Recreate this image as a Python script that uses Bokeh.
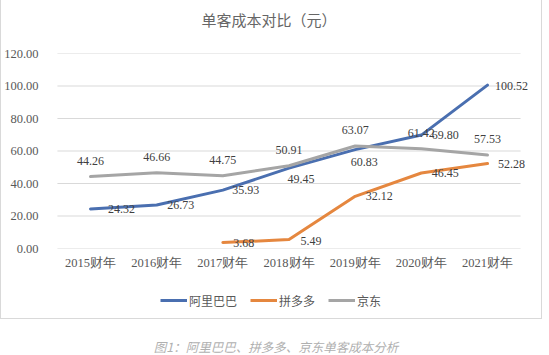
import math
from bokeh.plotting import figure
from bokeh.models import (FactorRange, Range1d, FixedTicker, NumeralTickFormatter,
                          Legend, LegendItem, ColumnDataSource, Div, LabelSet)
from bokeh.transform import dodge
from bokeh.layouts import column
from bokeh.embed import file_html
from bokeh.resources import INLINE
from bokeh.core.properties import value

# ---------------- data ----------------
categories = ["2015财年", "2016财年", "2017财年", "2018财年", "2019财年", "2020财年", "2021财年"]
alibaba = [24.32, 26.73, 35.93, 49.45, 60.83, 69.80, 100.52]
pinduoduo = [math.nan, math.nan, 3.68, 5.49, 32.12, 46.45, 52.28]
jingdong = [44.26, 46.66, 44.75, 50.91, 63.07, 61.42, 57.53]
y_ticks = [0, 20, 40, 60, 80, 100, 120]
series_names = ["阿里巴巴", "拼多多", "京东"]
title_text = "单客成本对比（元）"
caption_text = "图1：阿里巴巴、拼多多、京东单客成本分析"

# ---------------- styles ----------------
colors = ["#4a6fb0", "#e5873f", "#a5a5a5"]
# label offsets in screen pixels (dx right, dy down)
ali_dx = [31, 24, 23, 12, 9, 24, 24]
ali_dy = [0, 0, 0, 11, 12, 0, 1]
pdd_dx = [0, 0, 21, 22, 24, 24, 24]
pdd_dy = [0, 0, 0, 1, 0, 0, 0]
jd_dx = [0, 0, 0, 0, 0, 0, 0]
jd_dy = [-16, -16, -16, -16, -16, -16, -16]
FONT_CJK = "Noto Sans CJK SC"
GREY = "#595959"

title = Div(text=title_text, width=530, height=24,
            styles={"text-align": "center", "font-size": "15px", "line-height": "24px",
                    "color": "#666666", "font-family": FONT_CJK, "width": "530px",
                    "padding-right": "4px", "padding-top": "3px", "box-sizing": "border-box"})

p = figure(x_range=FactorRange(factors=categories, range_padding=0.15,
                               range_padding_units="absolute"),
           y_range=Range1d(0, 120),
           width=530, height=247,
           min_border_left=37, min_border_right=1,
           min_border_top=19, min_border_bottom=33,
           output_backend="svg", toolbar_location=None)

p.outline_line_color = None
p.xgrid.grid_line_color = None
p.ygrid.grid_line_color = None

# horizontal gridlines spanning exactly the category bands
grid_src = ColumnDataSource(dict(y=y_ticks, x0=[categories[0]] * len(y_ticks),
                                 x1=[categories[-1]] * len(y_ticks)))
p.segment(x0=dodge("x0", -0.5, range=p.x_range), x1=dodge("x1", 0.5, range=p.x_range),
          y0="y", y1="y", source=grid_src, line_color="#d9d9d9", line_width=1)

p.yaxis.ticker = FixedTicker(ticks=y_ticks)
p.yaxis.formatter = NumeralTickFormatter(format="0.00")
for ax in (p.xaxis[0], p.yaxis[0]):
    ax.axis_line_color = None
    ax.major_tick_line_color = None
    ax.minor_tick_line_color = None
    ax.major_label_text_font = "Liberation Serif"
    ax.major_label_text_font_size = "12.5px"
    ax.major_label_text_color = GREY
p.yaxis.major_label_standoff = 3
p.xaxis.major_label_standoff = 1

sources = []
for vals, col in zip([alibaba, pinduoduo, jingdong], colors):
    src = ColumnDataSource(dict(x=categories, y=vals))
    sources.append(src)
    p.line("x", "y", source=src, line_color=col, line_width=3,
           line_join="round", line_cap="round")

def add_labels(vals, dx, dy):
    xs, ys, ts, ox, oy = [], [], [], [], []
    for c, v, a, b in zip(categories, vals, dx, dy):
        if math.isnan(v):
            continue
        xs.append(c); ys.append(v); ts.append(f"{v:.2f}"); ox.append(a); oy.append(-b)
    src = ColumnDataSource(dict(x=xs, y=ys, t=ts, ox=ox, oy=oy))
    p.add_layout(LabelSet(x="x", y="y", text="t", source=src, x_offset="ox", y_offset="oy",
                          text_align="center", text_baseline="middle",
                          text_font=value("Liberation Serif"), text_font_size="12px",
                          text_color="#404040"))

add_labels(jingdong, jd_dx, jd_dy)
add_labels(alibaba, ali_dx, ali_dy)
add_labels(pinduoduo, pdd_dx, pdd_dy)

# legend strip (lines drawn off-range so only the legend shows)
p2 = figure(width=530, height=37, x_range=FactorRange(factors=categories),
            y_range=Range1d(1000, 1001),
            x_axis_type=None, y_axis_type=None, min_border=0,
            output_backend="svg", toolbar_location=None)
p2.outline_line_color = None
p2.grid.visible = False
items = []
for n, col, src in zip(series_names, colors, sources):
    r = p2.line("x", "y", source=src, line_color=col, line_width=3)
    items.append(LegendItem(label=n, renderers=[r]))
legend = Legend(items=items, orientation="horizontal", location=(113, 8),
                label_text_font=FONT_CJK, label_text_font_size="12px",
                label_text_color=GREY, glyph_width=27, glyph_height=20,
                label_standoff=2, spacing=13, padding=0, margin=0,
                border_line_color=None, background_fill_alpha=0)
p2.add_layout(legend)

box = column(title, p, p2, spacing=0,
             styles={"border-left": "1px solid #d9d9d9", "border-right": "1px solid #d9d9d9",
                     "border-bottom": "1px solid #d9d9d9"})

caption = Div(text=caption_text, width=530, height=30,
              styles={"text-align": "center", "font-style": "italic", "color": "#b0b0b0",
                      "font-size": "12.5px", "line-height": "16px", "font-family": FONT_CJK,
                      "padding-top": "15px", "padding-left": "12px",
                      "box-sizing": "border-box", "width": "530px"})

layout = column(box, caption, spacing=0)
open("out.html", "w").write(file_html(layout, INLINE))
